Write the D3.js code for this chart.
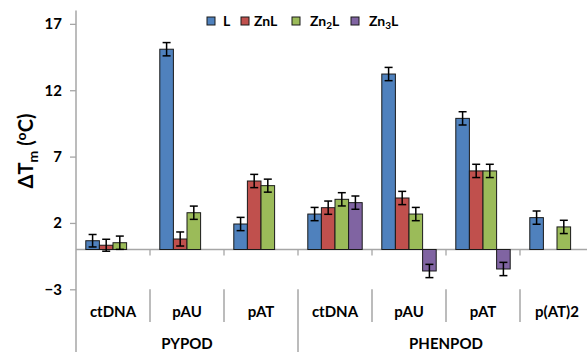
<!DOCTYPE html>
<html>
<head>
<meta charset="utf-8">
<script src="https://cdn.jsdelivr.net/npm/d3@7/dist/d3.min.js"></script>
<style>
html,body{margin:0;padding:0;background:#fff;}
svg{display:block;font-family:Lato,"Open Sans",sans-serif;font-weight:bold;}
</style>
</head>
<body>
<svg id="chart" width="587" height="352"></svg>
<script>
const groups = ["PYPOD", "PHENPOD"];
const categories = ["ctDNA", "pAU", "pAT", "ctDNA", "pAU", "pAT", "p(AT)2"];
const categoryGroup = ["PYPOD", "PYPOD", "PYPOD", "PHENPOD", "PHENPOD", "PHENPOD", "PHENPOD"];
const seriesNames = ["L", "ZnL", "Zn2L", "Zn3L"];
const seriesColors = ["#4f81bd", "#c0504d", "#9bbb59", "#8064a2"];
const valuesL    = [0.66, 15.09, 1.92, 2.67, 13.22, 9.88, 2.40];
const valuesZnL  = [0.32, 0.79, 5.16, 3.15, 3.88, 5.92, null];
const valuesZn2L = [0.51, 2.77, 4.81, 3.78, 2.67, 5.92, 1.70];
const valuesZn3L = [null, null, null, 3.53, -1.62, -1.47, null];
const errorsL    = [0.47, 0.5, 0.5, 0.5, 0.5, 0.5, 0.5];
const errorsZnL  = [0.45, 0.53, 0.5, 0.5, 0.5, 0.5, null];
const errorsZn2L = [0.5, 0.5, 0.49, 0.5, 0.5, 0.5, 0.5];
const errorsZn3L = [null, null, null, 0.5, 0.5, 0.5, null];
const yTicks = [-3, 2, 7, 12, 17];

const allValues = [valuesL, valuesZnL, valuesZn2L, valuesZn3L];
const allErrors = [errorsL, errorsZnL, errorsZn2L, errorsZn3L];

const svg = d3.select("#chart");
const axisColor = "#a6a6a6";

const y = d3.scaleLinear().domain([-3, 18]).range([289.3, 10.6]);
const catIdx = categories.map((c, i) => i);
const x0 = d3.scaleBand().domain(catIdx).range([76, 594]).paddingInner(0).paddingOuter(0);
const x1 = d3.scaleBand().domain(seriesNames).range([0, x0.bandwidth()]).paddingInner(0).paddingOuter(0.72);

// Y axis
const yAxis = d3.axisLeft(y).tickValues(yTicks).tickSize(6).tickPadding(8).tickFormat(d3.format("d"));
const yg = svg.append("g").attr("transform", "translate(76,0)").call(yAxis);
yg.select(".domain").remove();
yg.selectAll(".tick line").attr("stroke", axisColor).attr("stroke-width", 1.3);
yg.selectAll(".tick text").attr("fill", "#000").style("font-size", "15px").style("font-weight", "bold").style("font-family", "Lato, 'Open Sans', sans-serif");
svg.append("line").attr("x1", 76).attr("x2", 76).attr("y1", y(18)).attr("y2", 352)
  .attr("stroke", axisColor).attr("stroke-width", 1.5);

// Zero baseline with ticks at category boundaries
svg.append("line").attr("x1", 76).attr("x2", 594).attr("y1", y(0)).attr("y2", y(0))
  .attr("stroke", axisColor).attr("stroke-width", 1.5);
catIdx.slice(1).concat([categories.length]).forEach(i => {
  const xx = i < categories.length ? x0(i) : x0(i - 1) + x0.bandwidth();
  svg.append("line").attr("x1", xx).attr("x2", xx).attr("y1", y(0)).attr("y2", y(0) + 6)
    .attr("stroke", axisColor).attr("stroke-width", 1.3);
});

// Bars
allValues.forEach((vals, s) => {
  const g = svg.append("g");
  vals.forEach((v, i) => {
    if (v === null) return;
    const bx = x0(i) + x1(seriesNames[s]);
    g.append("rect")
      .attr("x", bx).attr("width", x1.bandwidth())
      .attr("y", Math.min(y(v), y(0))).attr("height", Math.abs(y(v) - y(0)))
      .attr("fill", seriesColors[s]).attr("stroke", "#1a1a1a").attr("stroke-width", 1);
  });
});
// Error bars
allValues.forEach((vals, s) => {
  vals.forEach((v, i) => {
    if (v === null) return;
    const e = allErrors[s][i];
    const cx = x0(i) + x1(seriesNames[s]) + x1.bandwidth() / 2;
    const g = svg.append("g").attr("stroke", "#000").attr("stroke-width", 1.5);
    g.append("line").attr("x1", cx).attr("x2", cx).attr("y1", y(v + e)).attr("y2", y(v - e));
    [v + e, v - e].forEach(t => g.append("line").attr("x1", cx - 4).attr("x2", cx + 4).attr("y1", y(t)).attr("y2", y(t)));
  });
});

// Category labels and separators
const sepTop = y(-3);
catIdx.forEach(i => {
  svg.append("text").attr("x", x0(i) + x0.bandwidth() / 2).attr("y", 317)
    .attr("text-anchor", "middle").style("font-size", "15px").text(categories[i]);
});
for (let i = 1; i < categories.length; i++) {
  const isGroupEdge = categoryGroup[i] !== categoryGroup[i - 1];
  svg.append("line").attr("x1", x0(i)).attr("x2", x0(i)).attr("y1", sepTop).attr("y2", isGroupEdge ? 352 : 322)
    .attr("stroke", axisColor).attr("stroke-width", 1.5);
}
const rightEdge = x0(categories.length - 1) + x0.bandwidth();
svg.append("line").attr("x1", rightEdge).attr("x2", rightEdge).attr("y1", sepTop).attr("y2", 352)
  .attr("stroke", axisColor).attr("stroke-width", 1.5);

groups.forEach(gname => {
  const idx = catIdx.filter(i => categoryGroup[i] === gname);
  const xs = x0(idx[0]);
  const xe = x0(idx[idx.length - 1]) + x0.bandwidth();
  svg.append("text").attr("x", (xs + xe) / 2).attr("y", 349)
    .attr("text-anchor", "middle").style("font-size", "15px").text(gname);
});

// Y label
const yl = svg.append("text").attr("transform", "translate(33,151) rotate(-90)")
  .attr("text-anchor", "middle").style("font-size", "20px");
yl.append("tspan").text("ΔT");
yl.append("tspan").attr("dy", 5).style("font-size", "14px").text("m");
yl.append("tspan").attr("dy", -5).text(" (");
yl.append("tspan").attr("dy", -7).style("font-size", "14px").text("o");
yl.append("tspan").attr("dy", 7).text("C)");

// Legend
const legendX = [207, 241, 292, 351];
seriesNames.forEach((name, s) => {
  const g = svg.append("g").attr("transform", `translate(${legendX[s]},17)`);
  g.append("rect").attr("width", 8).attr("height", 8).attr("fill", seriesColors[s]).attr("stroke", "#1a1a1a").attr("stroke-width", 1);
  const t = g.append("text").attr("x", s === 0 ? 16 : (s === 1 ? 13 : 18)).attr("y", 9).style("font-size", "14px");
  if (name.startsWith("Zn") && name.length === 4) {
    t.append("tspan").text("Zn");
    t.append("tspan").attr("dy", 3).style("font-size", "10px").text(name[2]);
    t.append("tspan").attr("dy", -3).text("L");
  } else {
    t.text(name);
  }
});
</script>
</body>
</html>
